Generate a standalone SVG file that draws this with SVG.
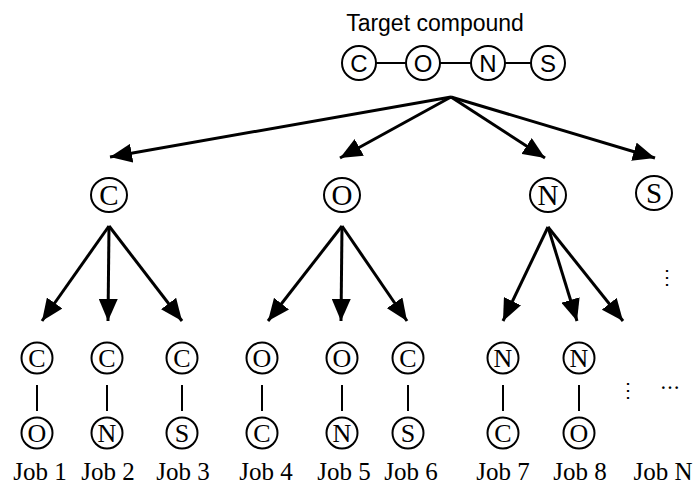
<svg xmlns="http://www.w3.org/2000/svg" width="697" height="484" viewBox="0 0 697 484">
<defs>
<marker id="ah" markerUnits="userSpaceOnUse" markerWidth="23" markerHeight="19" viewBox="0 0 23 19" refX="22" refY="9.5" orient="auto">
<path d="M0,0 L22,9.5 L0,19 z" fill="#000"/>
</marker>
</defs>
<style>
.n{fill:#fff;stroke:#000;stroke-width:2}
.ts{font-family:"Liberation Sans",Arial,sans-serif;font-size:24px;text-anchor:middle;fill:#000}
.tt{font-family:"Liberation Sans",Arial,sans-serif;font-size:23px;text-anchor:middle;fill:#000}
.tr{font-family:"Liberation Serif","Times New Roman",serif;font-size:29px;text-anchor:middle;fill:#000}
.tb{font-family:"Liberation Serif","Times New Roman",serif;font-size:26px;text-anchor:middle;fill:#000}
.job{font-family:"Liberation Serif","Times New Roman",serif;font-size:25px;text-anchor:middle;fill:#000}
.a{stroke:#000;stroke-width:3;fill:none;marker-end:url(#ah)}
.b{stroke:#000;stroke-width:2}
.d{font-family:"DejaVu Serif","Liberation Serif",serif;font-size:20px;text-anchor:middle;fill:#000}
</style>
<rect width="697" height="484" fill="#fff"/>
<text class="tt" x="435" y="31">Target compound</text>
<g id="connectors">
<line class="b" x1="376" y1="63" x2="406" y2="63"/>
<line class="b" x1="440" y1="63" x2="471" y2="63"/>
<line class="b" x1="505" y1="63" x2="531" y2="63"/>
<line class="a" x1="451" y1="97" x2="110" y2="157"/>
<line class="a" x1="451" y1="97" x2="340" y2="158"/>
<line class="a" x1="451" y1="97" x2="545" y2="158"/>
<line class="a" x1="451" y1="97" x2="655" y2="158"/>
<line class="a" x1="109" y1="226" x2="42" y2="321"/>
<line class="a" x1="109" y1="226" x2="108" y2="321"/>
<line class="a" x1="109" y1="226" x2="182" y2="321"/>
<line class="a" x1="342" y1="226" x2="268" y2="321"/>
<line class="a" x1="342" y1="226" x2="341" y2="321"/>
<line class="a" x1="342" y1="226" x2="407" y2="321"/>
<line class="a" x1="548" y1="227" x2="503" y2="321"/>
<line class="a" x1="548" y1="227" x2="577" y2="321"/>
<line class="a" x1="548" y1="227" x2="623" y2="321"/>
<line class="b" x1="37" y1="385" x2="37" y2="411"/>
<line class="b" x1="107" y1="385" x2="107" y2="411"/>
<line class="b" x1="182" y1="385" x2="182" y2="411"/>
<line class="b" x1="262" y1="385" x2="262" y2="411"/>
<line class="b" x1="342" y1="385" x2="342" y2="411"/>
<line class="b" x1="408" y1="385" x2="408" y2="411"/>
<line class="b" x1="503" y1="385" x2="503" y2="411"/>
<line class="b" x1="579" y1="385" x2="579" y2="411"/>
</g>
<g id="t-C"><circle class="n" cx="359" cy="63" r="17"/><text class="ts" x="359" y="71.5">C</text></g>
<g id="t-O"><circle class="n" cx="423" cy="63" r="17"/><text class="ts" x="423" y="71.5">O</text></g>
<g id="t-N"><circle class="n" cx="488" cy="63" r="17"/><text class="ts" x="488" y="71.5">N</text></g>
<g id="t-S"><circle class="n" cx="548" cy="63" r="17"/><text class="ts" x="548" y="71.5">S</text></g>
<g id="l-C"><ellipse class="n" cx="109" cy="195" rx="18" ry="17"/><text class="tr" x="109" y="204.5">C</text></g>
<g id="l-O"><ellipse class="n" cx="342" cy="195" rx="18" ry="17"/><text class="tr" x="342" y="204.5">O</text></g>
<g id="l-N"><ellipse class="n" cx="548" cy="195" rx="18" ry="17"/><text class="tr" x="548" y="204.5">N</text></g>
<g id="l-S"><ellipse class="n" cx="654" cy="193" rx="18" ry="17"/><text class="tr" x="654" y="202.5">S</text></g>
<g id="job1"><circle class="n" cx="37" cy="358" r="15.5"/><text class="tb" x="37" y="366.5">C</text><circle class="n" cx="37" cy="433" r="15.5"/><text class="tb" x="37" y="441.5">O</text><text class="job" x="40" y="480">Job 1</text></g>
<g id="job2"><circle class="n" cx="107" cy="358" r="15.5"/><text class="tb" x="107" y="366.5">C</text><circle class="n" cx="107" cy="433" r="15.5"/><text class="tb" x="107" y="441.5">N</text><text class="job" x="108" y="480">Job 2</text></g>
<g id="job3"><circle class="n" cx="182" cy="358" r="15.5"/><text class="tb" x="182" y="366.5">C</text><circle class="n" cx="182" cy="433" r="15.5"/><text class="tb" x="182" y="441.5">S</text><text class="job" x="183" y="480">Job 3</text></g>
<g id="job4"><circle class="n" cx="262" cy="358" r="15.5"/><text class="tb" x="262" y="366.5">O</text><circle class="n" cx="262" cy="433" r="15.5"/><text class="tb" x="262" y="441.5">C</text><text class="job" x="266" y="480">Job 4</text></g>
<g id="job5"><circle class="n" cx="342" cy="358" r="15.5"/><text class="tb" x="342" y="366.5">O</text><circle class="n" cx="342" cy="433" r="15.5"/><text class="tb" x="342" y="441.5">N</text><text class="job" x="344" y="480">Job 5</text></g>
<g id="job6"><circle class="n" cx="408" cy="358" r="15.5"/><text class="tb" x="408" y="366.5">C</text><circle class="n" cx="408" cy="433" r="15.5"/><text class="tb" x="408" y="441.5">S</text><text class="job" x="411" y="480">Job 6</text></g>
<g id="job7"><circle class="n" cx="503" cy="358" r="15.5"/><text class="tb" x="503" y="366.5">N</text><circle class="n" cx="503" cy="433" r="15.5"/><text class="tb" x="503" y="441.5">C</text><text class="job" x="503" y="480">Job 7</text></g>
<g id="job8"><circle class="n" cx="579" cy="358" r="15.5"/><text class="tb" x="579" y="366.5">N</text><circle class="n" cx="579" cy="433" r="15.5"/><text class="tb" x="579" y="441.5">O</text><text class="job" x="580" y="480">Job 8</text></g>
<g id="jobN"><text class="job" x="663" y="480">Job N</text></g>
<text class="d" x="667" y="284">⋮</text>
<text class="d" x="628" y="397">⋮</text>
<text class="d" x="670" y="389">…</text>
</svg>
